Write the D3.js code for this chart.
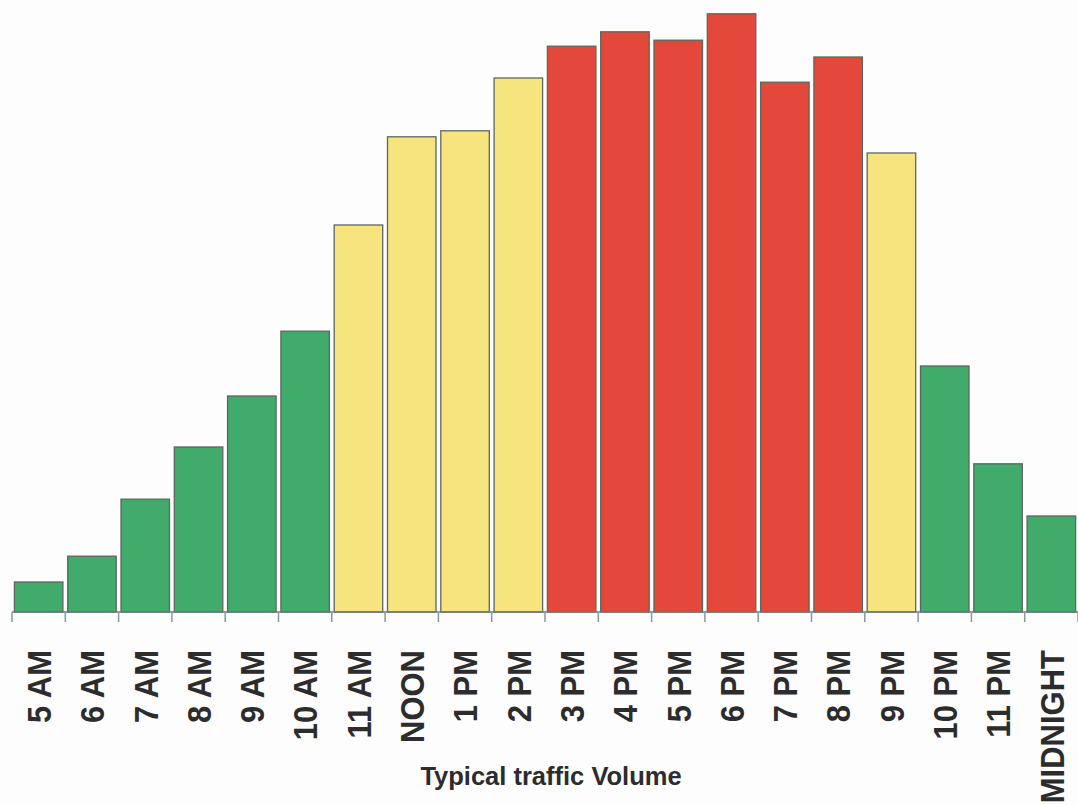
<!DOCTYPE html>
<html>
<head>
<meta charset="utf-8">
<script src="https://cdn.jsdelivr.net/npm/d3@7"></script>
<style>
  html, body { margin: 0; padding: 0; background: #fdfdfd; }
  svg { display: block; }
</style>
</head>
<body>
<svg id="chart" width="1078" height="805"></svg>
<script>
// ---- data ----
const hours = ["5 AM","6 AM","7 AM","8 AM","9 AM","10 AM","11 AM","NOON","1 PM","2 PM",
               "3 PM","4 PM","5 PM","6 PM","7 PM","8 PM","9 PM","10 PM","11 PM","MIDNIGHT"];
const volume = [5, 9.3, 18.8, 27.5, 36, 46.8, 64.5, 79.2, 80.2, 89,
                94.3, 96.7, 95.3, 99.7, 88.3, 92.5, 76.5, 41, 24.7, 16];
const level = ["low","low","low","low","low","low","mid","mid","mid","mid",
               "high","high","high","high","high","high","mid","low","low","low"];
const levelNames = ["low","mid","high"];
const levelColors = ["#40ab6b", "#f6e57e", "#e4483a"];
const axisTitle = "Typical traffic Volume";

(function () {
// ---- layout ----
const svg = d3.select("#chart");
const leftX = 12, rightX = 1078, baseline = 612, topY = 12;

const x = d3.scaleBand().domain(hours).range([leftX, rightX])
  .paddingInner(0.09).paddingOuter(0.045);
const y = d3.scaleLinear().domain([0, 100]).range([baseline, topY]);
const color = d3.scaleOrdinal().domain(levelNames).range(levelColors);

const data = hours.map((h, i) => ({ h, v: volume[i], l: level[i] }));

// bars
svg.append("g").selectAll("rect").data(data).join("rect")
  .attr("x", d => x(d.h))
  .attr("y", d => y(d.v))
  .attr("width", x.bandwidth())
  .attr("height", d => y(0) - y(d.v))
  .attr("fill", d => color(d.l))
  .attr("stroke", "#5e6660")
  .attr("stroke-width", 1.3);

// baseline
svg.append("line")
  .attr("x1", leftX).attr("x2", rightX)
  .attr("y1", baseline).attr("y2", baseline)
  .attr("stroke", "#6b7a7a").attr("stroke-width", 1.5);

// ticks at band boundaries
const step = x.step();
const bounds = d3.range(hours.length + 1).map(i => x(hours[0]) - step * x.paddingInner() / 2 + i * step);
svg.append("g").selectAll("line").data(bounds).join("line")
  .attr("x1", d => d).attr("x2", d => d)
  .attr("y1", baseline).attr("y2", baseline + 10)
  .attr("stroke", "#8a98a0").attr("stroke-width", 1.5);

// labels via axis
const ax = svg.append("g")
  .attr("transform", `translate(0,${baseline})`)
  .call(d3.axisBottom(x).tickSize(0).tickPadding(0));
ax.select(".domain").remove();
ax.selectAll("text")
  .attr("transform", "rotate(-90) scale(1,1.1)")
  .attr("x", -38)
  .attr("y", 0)
  .attr("dy", "0.36em")
  .attr("text-anchor", "end")
  .attr("font-family", "Liberation Sans, Arial, sans-serif")
  .attr("font-weight", "bold")
  .attr("font-size", 31)
  .attr("fill", "#2c2c2c");

// axis title
svg.append("text")
  .attr("x", 551).attr("y", 785)
  .attr("text-anchor", "middle")
  .attr("font-family", "Liberation Sans, Arial, sans-serif")
  .attr("font-weight", "bold")
  .attr("font-size", 25.5)
  .attr("fill", "#2c2c2c")
  .text(axisTitle);
})();
</script>
</body>
</html>
